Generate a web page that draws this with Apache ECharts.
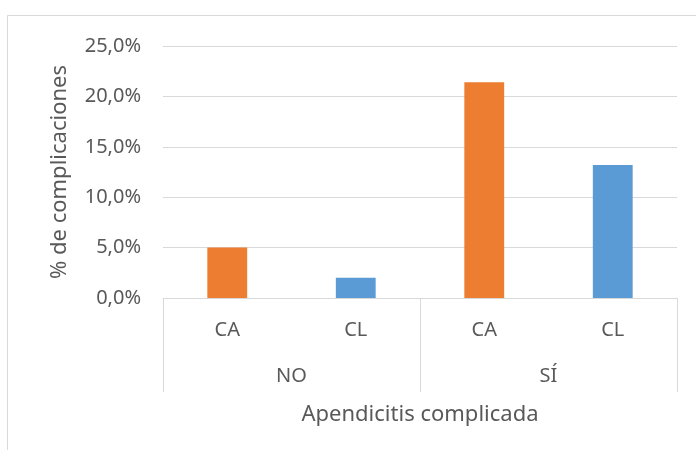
<!DOCTYPE html>
<html>
<head>
    <meta charset="utf-8">
    <script src="https://cdn.jsdelivr.net/npm/echarts@6/dist/echarts.min.js"></script>
</head>
<body style="margin:0;background:#fff">

    <div id="main" style="width:696px;height:450px"></div>

<script type="text/javascript">
// datos
var subCats = ['CA', 'CL', 'CA', 'CL'];
var groups = ['NO', 'SÍ'];
var values = [5.0, 2.0, 21.4, 13.2];
var yTicks = [0, 5, 10, 15, 20, 25];

var colorOf = { CA: '#ED7D31', CL: '#5B9BD5' };
var txt = '#595959';
var font = 'Noto Sans';

var myChart = echarts.init(document.getElementById('main'));

myChart.setOption({
    animation: false,
    textStyle: { fontFamily: font },
    graphic: [{
        type: 'rect',
        shape: { x: 7.5, y: 15.5, width: 700, height: 450 },
        style: { fill: 'none', stroke: '#D9D9D9', lineWidth: 1 },
        silent: true
    }],
    grid: { left: 163, right: 19, top: 46, bottom: 152 },
    xAxis: [
        {
            type: 'category',
            data: subCats,
            position: 'bottom',
            axisLine: { lineStyle: { color: '#D9D9D9', width: 1 } },
            axisTick: { show: false },
            axisLabel: { color: txt, fontSize: 20, margin: 22, fontFamily: font }
        },
        {
            type: 'category',
            data: groups,
            position: 'bottom',
            axisLine: { show: false },
            axisTick: { show: true, length: 94, lineStyle: { color: '#D9D9D9' } },
            axisLabel: { color: txt, fontSize: 20, margin: 68, fontFamily: font },
            name: 'Apendicitis complicada',
            nameLocation: 'middle',
            nameGap: 106,
            nameTextStyle: { color: txt, fontSize: 22, fontFamily: font }
        }
    ],
    yAxis: {
        type: 'value',
        min: yTicks[0],
        max: yTicks[yTicks.length - 1],
        interval: yTicks[1] - yTicks[0],
        axisLine: { show: false },
        axisTick: { show: false },
        splitLine: { lineStyle: { color: '#D9D9D9', width: 1 } },
        axisLabel: {
            color: txt, fontSize: 20, margin: 22, fontFamily: font,
            formatter: function (v) { return v.toFixed(1).replace('.', ',') + '%'; }
        },
        name: '% de complicaciones',
        nameLocation: 'middle',
        nameRotate: 90,
        nameGap: 92,
        nameTextStyle: { color: txt, fontSize: 22, fontFamily: font }
    },
    series: [{
        type: 'bar',
        xAxisIndex: 0,
        barWidth: '31%',
        data: values.map(function (v, i) {
            return { value: v, itemStyle: { color: colorOf[subCats[i]] } };
        })
    }]
});
</script>

</body>
</html>
